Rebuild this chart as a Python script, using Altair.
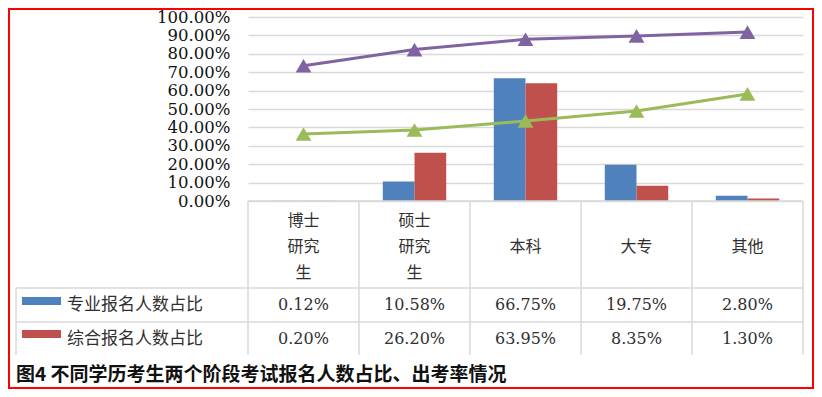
import altair as alt
import pandas as pd

# ---------------- data ----------------
categories = ["博士研究生", "硕士研究生", "本科", "大专", "其他"]
category_labels = ["博士\n研究\n生", "硕士\n研究\n生", "本科", "大专", "其他"]
bar_series = ["专业报名人数占比", "综合报名人数占比"]
zhuanye_share = [0.12, 10.58, 66.75, 19.75, 2.80]
zonghe_share = [0.20, 26.20, 63.95, 8.35, 1.30]
line_series = ["专业考试出考率", "综合考试出考率"]
green_rate = [36.4, 38.6, 43.5, 48.9, 58.2]
purple_rate = [73.5, 82.3, 87.9, 89.7, 91.8]
y_ticks = [0, 10, 20, 30, 40, 50, 60, 70, 80, 90, 100]
caption = "图4  不同学历考生两个阶段考试报名人数占比、出考率情况"

series_colors = ["#4F81BD", "#C0504D", "#9BBB59", "#8064A2"]

bar_rows = []
for i, c in enumerate(categories):
    bar_rows.append({"cat": c, "series": bar_series[0], "value": zhuanye_share[i] / 100})
    bar_rows.append({"cat": c, "series": bar_series[1], "value": zonghe_share[i] / 100})
bar_df = pd.DataFrame(bar_rows)

line_rows = []
for i, c in enumerate(categories):
    line_rows.append({"cat": c, "series": line_series[0], "value": green_rate[i] / 100})
    line_rows.append({"cat": c, "series": line_series[1], "value": purple_rate[i] / 100})
line_df = pd.DataFrame(line_rows)

table_df = pd.DataFrame({
    "cat": categories,
    "label": category_labels,
    "nlines": [len(s.split("\n")) for s in category_labels],
    "v1": [f"{v:.2f}%" for v in zhuanye_share],
    "v2": [f"{v:.2f}%" for v in zonghe_share],
})
dummy = pd.DataFrame({"d": [0]})

# ---------------- styles ----------------
GRID = "#d9d9d9"
TXT = "#303030"
NUM_FONT = "DejaVu Serif"
CJK_FONT = "Noto Sans CJK SC"

color_scale = alt.Scale(domain=bar_series + line_series, range=series_colors)
x_scale = alt.Scale(paddingInner=0, paddingOuter=0)
y_scale = alt.Scale(domain=[0, 1])


def xband(pos=0.5):
    return alt.X("cat:N", sort=categories, scale=x_scale, axis=None, bandPosition=pos)


y_axis = alt.Axis(values=[t / 100 for t in y_ticks], format=".2%",
                  grid=True, gridColor=GRID, gridWidth=1.5,
                  domain=False, ticks=False, tickSize=0,
                  labelOverlap=False, labelBound=False,
                  labelFont=NUM_FONT, labelFontSize=16.5,
                  labelColor="#111111", labelPadding=18, title=None)

bars = alt.Chart(bar_df).mark_bar().encode(
    x=alt.X("cat:N", sort=categories, scale=x_scale, axis=None),
    xOffset=alt.XOffset("series:N", sort=bar_series,
                        scale=alt.Scale(paddingInner=0, paddingOuter=0.75)),
    y=alt.Y("value:Q", scale=y_scale, axis=y_axis),
    color=alt.Color("series:N", scale=color_scale, legend=None),
)

lines = alt.Chart(line_df).mark_line(strokeWidth=3).encode(
    x=xband(0.5), y=alt.Y("value:Q", scale=y_scale, axis=y_axis),
    color=alt.Color("series:N", scale=color_scale, legend=None),
)
points = alt.Chart(line_df).mark_point(shape="triangle-up", filled=True,
                                       size=250, opacity=1).encode(
    x=xband(0.5), y=alt.Y("value:Q", scale=y_scale, axis=y_axis),
    color=alt.Color("series:N", scale=color_scale, legend=None),
)

# ---------------- data table ----------------
cat_multi = alt.Chart(table_df).mark_text(
    lineBreak="\n", lineHeight=26, font=CJK_FONT, fontSize=16,
    color=TXT, baseline="middle", align="center").encode(
    x=xband(0.5), y=alt.value(204), text="label:N"
).transform_filter("datum.nlines > 1")

cat_single = alt.Chart(table_df).mark_text(
    font=CJK_FONT, fontSize=16,
    color=TXT, baseline="middle", align="center").encode(
    x=xband(0.5), y=alt.value(230), text="label:N"
).transform_filter("datum.nlines == 1")

row1_text = alt.Chart(table_df).mark_text(
    font=NUM_FONT, fontSize=16, color=TXT, baseline="middle", align="center").encode(
    x=xband(0.5), y=alt.value(288), text="v1:N")
row2_text = alt.Chart(table_df).mark_text(
    font=NUM_FONT, fontSize=16, color=TXT, baseline="middle", align="center").encode(
    x=xband(0.5), y=alt.value(322), text="v2:N")

vrules = alt.Chart(table_df).mark_rule(color=GRID, strokeWidth=1.5).encode(
    x=xband(0), y=alt.value(184), y2=alt.value(338))


def rule(x1, x2, y1, y2):
    return alt.Chart(dummy).mark_rule(color=GRID, strokeWidth=1.5).encode(
        x=alt.value(x1), x2=alt.value(x2), y=alt.value(y1), y2=alt.value(y2))


table_lines = [
    rule(0, 555, 184, 184),
    rule(-232, 555, 271, 271),
    rule(-232, 555, 305, 305),
    rule(555, 555, 184, 338),
    rule(-232, -232, 271, 338),
]

key1 = alt.Chart(dummy).mark_rect(color=series_colors[0]).encode(
    x=alt.value(-226), x2=alt.value(-187), y=alt.value(280), y2=alt.value(288))
key2 = alt.Chart(dummy).mark_rect(color=series_colors[1]).encode(
    x=alt.value(-226), x2=alt.value(-187), y=alt.value(313), y2=alt.value(321))

leg1 = alt.Chart(dummy).mark_text(
    text=bar_series[0], font=CJK_FONT, fontSize=17, color=TXT,
    align="left", baseline="middle").encode(x=alt.value(-181), y=alt.value(288))
leg2 = alt.Chart(dummy).mark_text(
    text=bar_series[1], font=CJK_FONT, fontSize=17, color=TXT,
    align="left", baseline="middle").encode(x=alt.value(-181), y=alt.value(322))

cap = alt.Chart(dummy).mark_text(
    text=caption, font=CJK_FONT, fontSize=19, fontWeight="bold", color="#111111",
    align="left", baseline="middle").encode(x=alt.value(-232), y=alt.value(358))

border = alt.Chart(dummy).mark_rect(fillOpacity=0, stroke="#ff0000", strokeWidth=2).encode(
    x=alt.value(-239), x2=alt.value(565), y=alt.value(-8), y2=alt.value(371))

chart = alt.layer(
    bars, *table_lines, vrules, lines, points, cat_multi, cat_single,
    row1_text, row2_text, key1, key2, leg1, leg2, cap, border,
).properties(
    width=555, height=184,
    padding={"left": 240, "top": 9, "right": 11, "bottom": 188},
    autosize=alt.AutoSizeParams(type="none"),
    background="white",
).configure_view(stroke=None)

chart.save("out.html", embed_options={"renderer": "svg", "actions": False})
